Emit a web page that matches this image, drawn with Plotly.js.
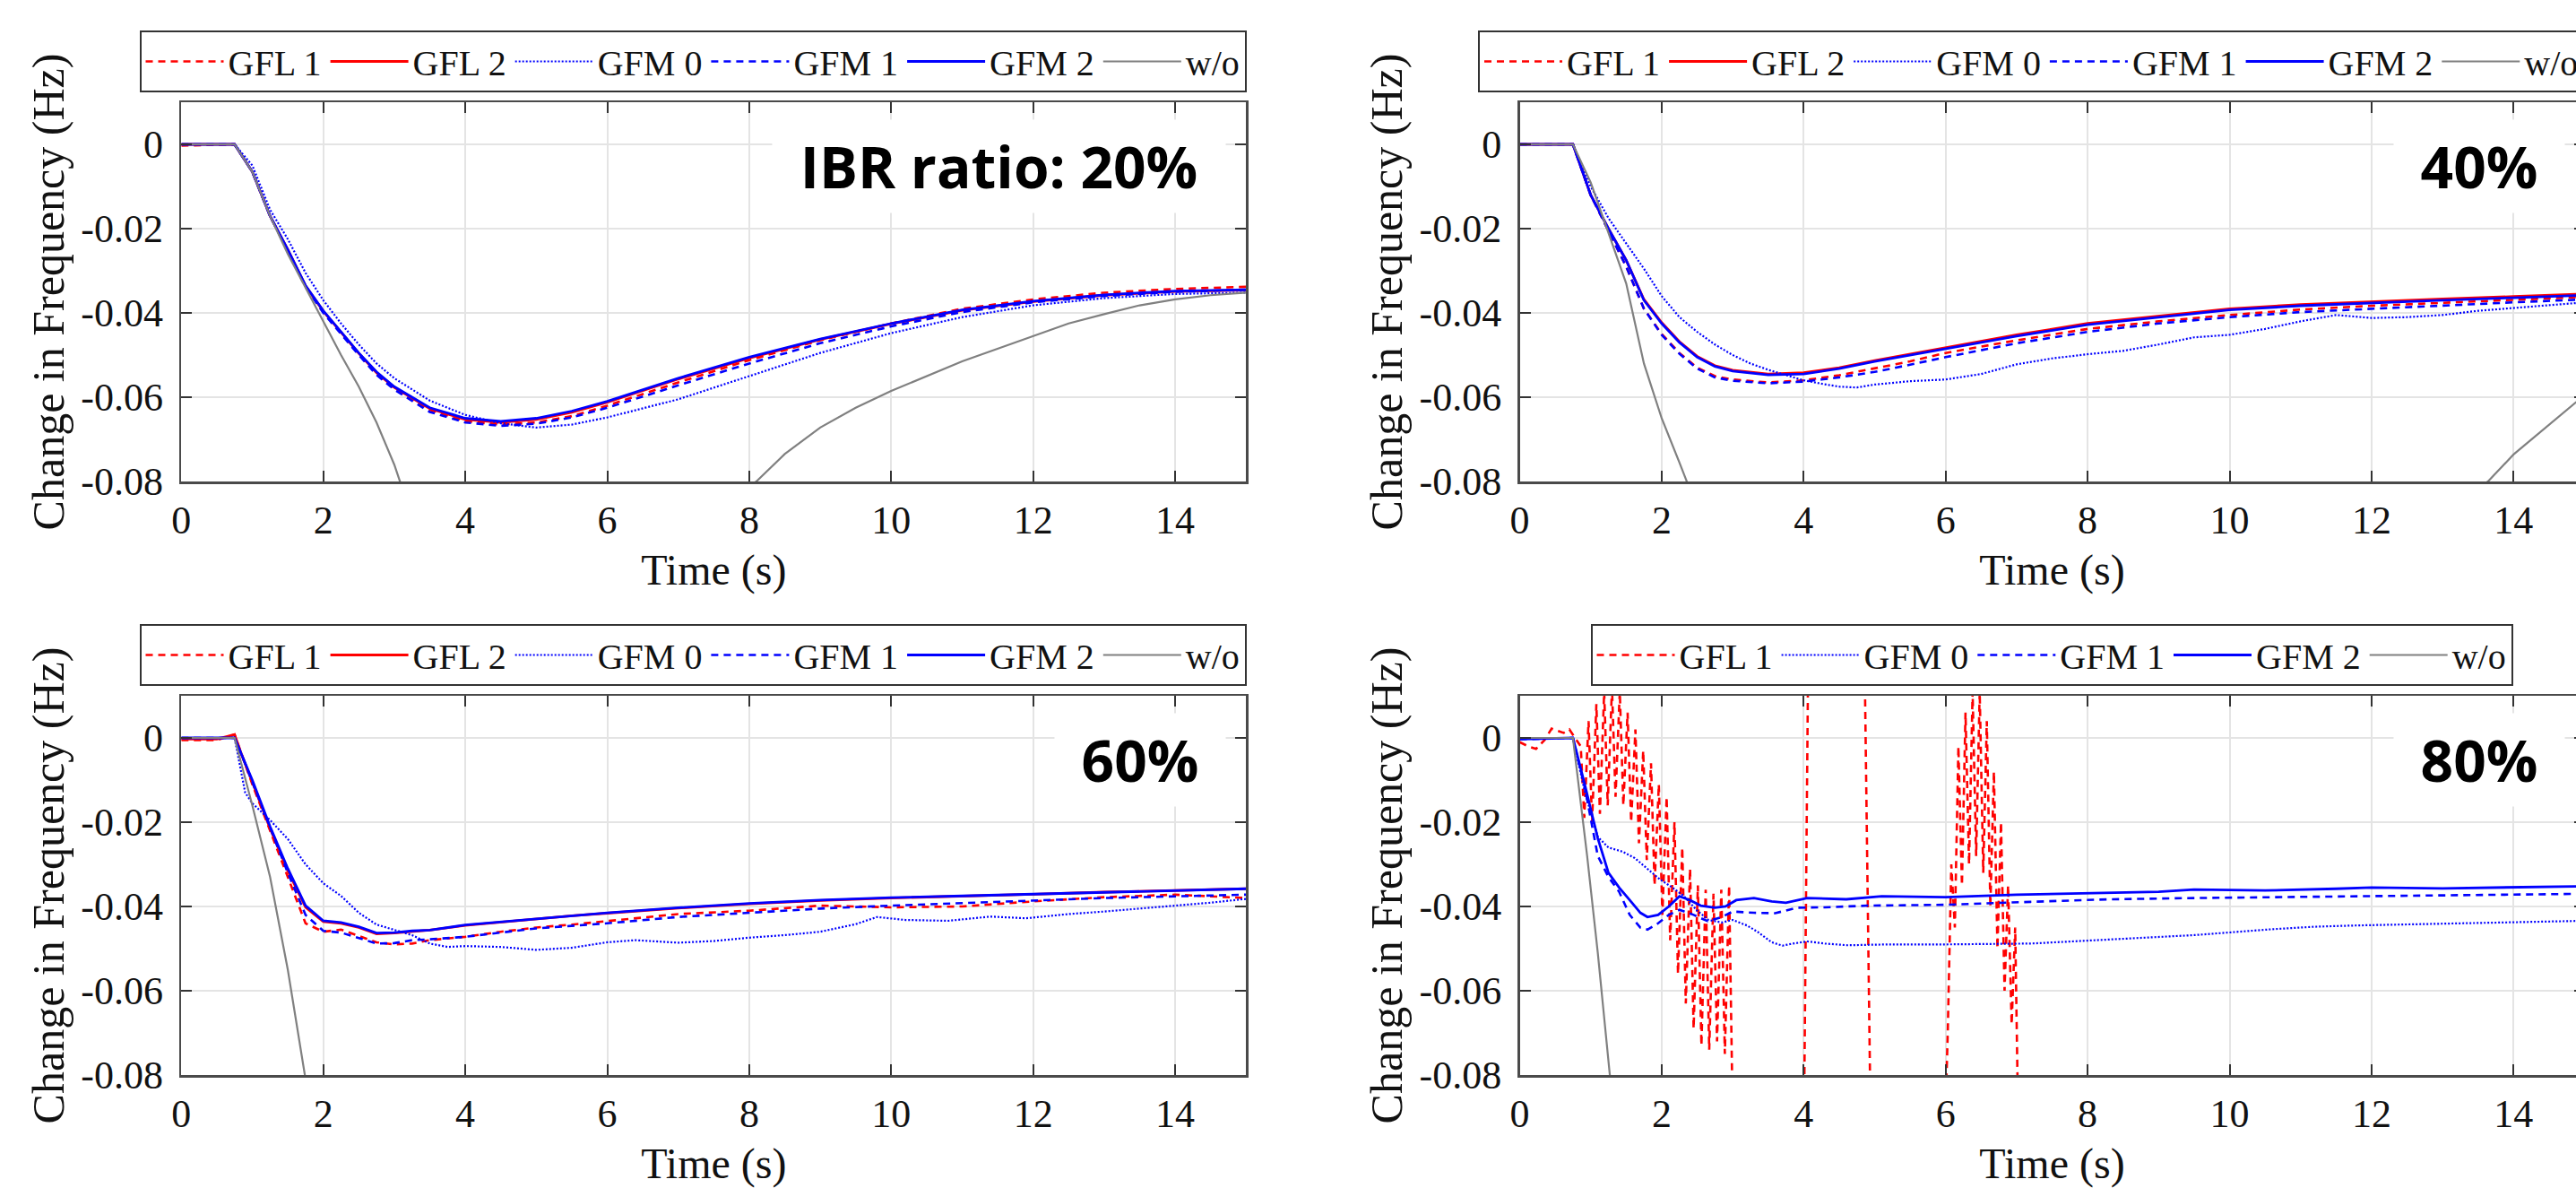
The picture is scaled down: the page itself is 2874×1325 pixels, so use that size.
<!DOCTYPE html>
<html>
<head>
<meta charset="utf-8">
<script src="https://cdn.plot.ly/plotly-3.0.1.min.js"></script>
<style>
  html, body { margin: 0; padding: 0; background: #fff; overflow: hidden; }
  #chart { width: 2900px; height: 1325px; }
</style>
</head>
<body>
<div id="chart"></div>
<script>
// ---------------- DATA ----------------
const seriesNames = ['GFL 1', 'GFL 2', 'GFM 0', 'GFM 1', 'GFM 2', 'w/o'];
const panelLabels = ['IBR ratio: 20%', '40%', '60%', '80%'];
const xTickVals = [0, 2, 4, 6, 8, 10, 12, 14];
const yTickVals = [0, -0.02, -0.04, -0.06, -0.08];
const yTickText = ['0', '-0.02', '-0.04', '-0.06', '-0.08'];

// ---- IBR 20% ----
const t20 = [0, 0.75, 1.0, 1.25, 1.5, 1.75, 2.0, 2.25, 2.5, 2.75, 3.0, 3.5, 4.0, 4.5, 5.0, 5.5, 6.0, 7.0, 8.0, 9.0, 10.0, 11.0, 12.0, 13.0, 14.0, 15.0];
const gfl1_20 = [-0.0003, 0, -0.0065, -0.017, -0.0252, -0.0338, -0.0398, -0.0448, -0.0498, -0.0545, -0.058, -0.063, -0.0657, -0.0665, -0.066, -0.0645, -0.062, -0.0565, -0.0512, -0.0465, -0.0425, -0.039, -0.0368, -0.0352, -0.0343, -0.0338];
const gfl2_20 = [0, 0, -0.0065, -0.017, -0.025, -0.0336, -0.0396, -0.0446, -0.0496, -0.0542, -0.0577, -0.0627, -0.0653, -0.066, -0.0653, -0.0636, -0.0612, -0.0557, -0.0507, -0.0463, -0.0426, -0.0394, -0.0373, -0.0358, -0.0349, -0.0346];
const gfm0_20 = [0, 0, -0.005, -0.0155, -0.0225, -0.0305, -0.037, -0.0425, -0.0475, -0.052, -0.0555, -0.0608, -0.0642, -0.0662, -0.0672, -0.0665, -0.0648, -0.0605, -0.055, -0.0495, -0.0448, -0.041, -0.0382, -0.0365, -0.0355, -0.0352];
const gfm1_20 = [0, 0, -0.0065, -0.017, -0.0252, -0.0338, -0.04, -0.045, -0.05, -0.0547, -0.0582, -0.0635, -0.066, -0.0668, -0.0663, -0.0648, -0.0625, -0.0572, -0.052, -0.0472, -0.0432, -0.0398, -0.0375, -0.036, -0.035, -0.0345];
const gfm2_20 = [0, 0, -0.0065, -0.017, -0.025, -0.0335, -0.0395, -0.0445, -0.0495, -0.054, -0.0575, -0.0625, -0.065, -0.0657, -0.065, -0.0633, -0.061, -0.0555, -0.0505, -0.0462, -0.0425, -0.0393, -0.0372, -0.0357, -0.0348, -0.0345];
const tWo20 = [0, 0.75, 1.0, 1.25, 1.5, 1.75, 2.0, 2.25, 2.5, 2.75, 3.0, 3.1, 4.0, 5.5, 7.0, 8.1, 8.5, 9.0, 9.5, 10.0, 11.0, 11.5, 12.0, 12.5, 13.0, 13.5, 14.0, 14.5, 15.0];
const wo20 = [0, 0, -0.0065, -0.017, -0.026, -0.034, -0.042, -0.05, -0.0575, -0.066, -0.076, -0.081, -0.095, -0.1, -0.094, -0.08, -0.0735, -0.0672, -0.0625, -0.0585, -0.0515, -0.0485, -0.0455, -0.0425, -0.0403, -0.0382, -0.0368, -0.0358, -0.0352];

// ---- IBR 40% ----
const t40 = [0, 0.75, 1.0, 1.25, 1.5, 1.75, 2.0, 2.25, 2.5, 2.75, 3.0, 3.5, 4.0, 4.5, 5.0, 5.5, 6.0, 7.0, 8.0, 9.0, 10.0, 11.0, 12.0, 13.0, 14.0, 15.0];
const gfl1_40 = [0, 0, -0.012, -0.0205, -0.029, -0.039, -0.045, -0.0495, -0.053, -0.055, -0.0558, -0.0565, -0.056, -0.0548, -0.0532, -0.0515, -0.0495, -0.0465, -0.0438, -0.042, -0.0405, -0.0392, -0.0383, -0.0376, -0.0368, -0.0362];
const gfl2_40 = [0, 0, -0.012, -0.02, -0.0275, -0.0368, -0.0423, -0.0468, -0.0503, -0.0525, -0.0536, -0.0545, -0.0542, -0.053, -0.0513, -0.0498, -0.0483, -0.0452, -0.0425, -0.0407, -0.039, -0.038, -0.0373, -0.0367, -0.0361, -0.0355];
const gfm1_40 = [0, 0, -0.012, -0.0205, -0.029, -0.039, -0.0452, -0.0497, -0.0532, -0.0553, -0.0561, -0.0567, -0.0563, -0.0553, -0.054, -0.0523, -0.0505, -0.0472, -0.0445, -0.0425, -0.041, -0.0398, -0.039, -0.0383, -0.0375, -0.0368];
const gfm2_40 = [0, 0, -0.012, -0.02, -0.0275, -0.037, -0.0425, -0.047, -0.0505, -0.0527, -0.0538, -0.0547, -0.0545, -0.0532, -0.0515, -0.05, -0.0485, -0.0455, -0.0428, -0.041, -0.0393, -0.0383, -0.0376, -0.037, -0.0364, -0.0358];
const tGfm0_40 = [0, 0.75, 1.0, 1.25, 1.5, 1.75, 2.0, 2.25, 2.5, 2.75, 3.0, 3.25, 3.5, 3.75, 4.0, 4.25, 4.5, 4.75, 5.0, 5.5, 6.0, 6.5, 7.0, 7.5, 8.0, 8.5, 9.0, 9.5, 10.0, 10.5, 11.0, 11.5, 12.0, 12.5, 13.0, 13.5, 14.0, 14.5, 15.0];
const gfm0_40 = [0, 0, -0.01, -0.0175, -0.0235, -0.0295, -0.036, -0.041, -0.0445, -0.0475, -0.05, -0.052, -0.0535, -0.0548, -0.056, -0.0568, -0.0575, -0.0577, -0.057, -0.0562, -0.0558, -0.0545, -0.0522, -0.0508, -0.0498, -0.049, -0.0475, -0.0458, -0.0452, -0.0438, -0.042, -0.0405, -0.0412, -0.041, -0.0405, -0.0395, -0.0388, -0.0382, -0.0375];
const tWo40 = [0, 0.75, 1.0, 1.25, 1.5, 1.75, 2.0, 2.25, 2.4, 4.0, 8.0, 12.0, 13.64, 14.0, 14.5, 15.0];
const wo40 = [0, 0, -0.009, -0.021, -0.033, -0.052, -0.065, -0.0755, -0.082, -0.12, -0.14, -0.1, -0.08, -0.0736, -0.0665, -0.0595];

// ---- IBR 60% ----
const t60 = [0, 0.5, 0.75, 0.85, 1.0, 1.25, 1.5, 1.75, 2.0, 2.25, 2.5, 2.75, 3.0, 3.25, 3.5, 4.0, 4.5, 5.0, 5.5, 6.0, 7.0, 8.0, 9.0, 10.0, 11.0, 12.0, 13.0, 14.0, 15.0];
const gfl1_60 = [-0.0005, -0.0005, 0.0008, -0.004, -0.011, -0.022, -0.033, -0.044, -0.046, -0.0455, -0.047, -0.0485, -0.049, -0.0488, -0.048, -0.0472, -0.046, -0.045, -0.0443, -0.0435, -0.0418, -0.041, -0.0398, -0.0402, -0.04, -0.0388, -0.0378, -0.0372, -0.038];
const gfl2_60 = [-0.0003, -0.0003, 0.0008, -0.004, -0.0105, -0.0215, -0.0315, -0.0402, -0.0436, -0.044, -0.045, -0.0465, -0.0463, -0.0459, -0.0456, -0.0445, -0.0437, -0.043, -0.0422, -0.0416, -0.0404, -0.0394, -0.0386, -0.038, -0.0376, -0.0371, -0.0366, -0.0362, -0.0358];
const gfm1_60 = [0, 0, 0, -0.004, -0.0105, -0.0215, -0.032, -0.042, -0.0458, -0.0462, -0.0475, -0.0488, -0.0487, -0.048, -0.0478, -0.0472, -0.0462, -0.0452, -0.0446, -0.044, -0.0425, -0.0415, -0.0405, -0.0398, -0.0392, -0.0386, -0.038, -0.0376, -0.0372];
const gfm2_60 = [0, 0, 0, -0.004, -0.01, -0.021, -0.031, -0.0398, -0.0434, -0.0438, -0.0448, -0.0463, -0.0462, -0.0458, -0.0456, -0.0444, -0.0437, -0.0429, -0.0422, -0.0415, -0.0403, -0.0393, -0.0385, -0.0379, -0.0375, -0.0371, -0.0366, -0.0362, -0.0358];
const tGfm0_60 = [0, 0.75, 0.9, 1.0, 1.25, 1.5, 1.75, 2.0, 2.25, 2.5, 2.75, 3.0, 3.25, 3.5, 3.75, 4.0, 4.5, 5.0, 5.5, 6.0, 6.4, 7.0, 7.5, 8.0, 8.5, 9.0, 9.5, 9.8, 10.2, 10.8, 11.4, 11.9, 12.5, 13.0, 13.5, 14.0, 14.5, 15.0];
const gfm0_60 = [0, 0, -0.013, -0.0155, -0.0195, -0.024, -0.03, -0.0345, -0.0375, -0.0415, -0.0443, -0.0455, -0.0468, -0.0488, -0.0496, -0.0494, -0.0496, -0.0503, -0.0498, -0.0485, -0.048, -0.0486, -0.0482, -0.0474, -0.0468, -0.046, -0.0442, -0.0425, -0.0432, -0.0434, -0.0424, -0.0428, -0.0418, -0.0412, -0.0405, -0.0398, -0.0391, -0.0382];
const tWo60 = [0, 0.75, 1.0, 1.25, 1.5, 1.75, 2.0];
const wo60 = [0, 0, -0.016, -0.033, -0.055, -0.081, -0.1];

// ---- IBR 80% ----
const tGfl1_80 = [0, 0.12, 0.23, 0.35, 0.45, 0.53, 0.62, 0.7, 0.78,
  0.86, 0.91, 0.97, 1.02, 1.08, 1.13, 1.19, 1.24, 1.30, 1.35, 1.41, 1.46, 1.52, 1.57, 1.63, 1.68, 1.74, 1.79, 1.85, 1.90,
  1.96, 2.01, 2.07, 2.12, 2.18, 2.23, 2.29, 2.34, 2.40, 2.45, 2.51, 2.56, 2.62, 2.67, 2.73, 2.78, 2.84, 2.89, 2.95, 3.01,
  3.5, 4.0, 4.07, 4.5, 4.85, 4.95, 5.5, 5.98,
  6.03, 6.08, 6.13, 6.18, 6.23, 6.28, 6.33, 6.38, 6.43, 6.48, 6.53, 6.58, 6.63, 6.68, 6.73, 6.78, 6.83, 6.88, 6.93, 6.98,
  7.03, 7.5, 10, 15];
const gfl1_80 = [-0.001, -0.002, -0.0026, -0.0005, 0.0022, 0.0018, 0.0012, 0.002, 0.0,
  -0.002, -0.019, 0.004, -0.02, 0.008, -0.018, 0.011, -0.016, 0.012, -0.014, 0.011, -0.016, 0.006, -0.02, 0.002, -0.025, -0.003, -0.029, -0.006, -0.035,
  -0.011, -0.042, -0.014, -0.048, -0.02, -0.056, -0.026, -0.063, -0.031, -0.069, -0.035, -0.073, -0.036, -0.074, -0.037, -0.072, -0.036, -0.075, -0.035, -0.1,
  -0.12, -0.1, 0.03, 0.05, 0.03, -0.1, -0.15, -0.1,
  -0.07, -0.03, -0.045, -0.002, -0.035, 0.006, -0.03, 0.011, -0.028, 0.011, -0.032, 0.004, -0.04, -0.008, -0.05, -0.02, -0.06, -0.035, -0.068, -0.045,
  -0.1, -0.15, -0.2, -0.2];
const tGfm0_80 = [0, 0.75, 0.92, 1.1, 1.25, 1.45, 1.62, 1.8, 1.97, 2.15, 2.31, 2.5, 2.66, 2.85, 3.0, 3.2, 3.35, 3.55, 3.7, 3.85, 4.05, 4.3, 4.62, 5.2, 6.0, 7.2, 8.3, 9.5, 10.6, 11.2, 11.8, 12.9, 14.1, 15.0];
const gfm0_80 = [0, 0, -0.013, -0.0235, -0.026, -0.027, -0.0285, -0.031, -0.0335, -0.0355, -0.0375, -0.041, -0.0432, -0.0438, -0.0432, -0.0445, -0.046, -0.0485, -0.0493, -0.0488, -0.0483, -0.0488, -0.0492, -0.049, -0.049, -0.0488, -0.0479, -0.0468, -0.0454, -0.0448, -0.0445, -0.0441, -0.0436, -0.0434];
const tGfm1_80 = [0, 0.75, 0.92, 1.1, 1.25, 1.4, 1.55, 1.7, 1.8, 1.95, 2.1, 2.25, 2.45, 2.65, 2.85, 3.0, 3.3, 3.6, 3.9, 4.3, 4.9, 6.0, 7.2, 8.3, 9.5, 10.6, 11.8, 12.9, 14.0, 15.0];
const gfm1_80 = [-0.0003, 0, -0.012, -0.028, -0.033, -0.0365, -0.042, -0.045, -0.0455, -0.044, -0.042, -0.0408, -0.042, -0.0435, -0.0425, -0.0412, -0.0415, -0.0416, -0.0403, -0.0402, -0.0398, -0.0396, -0.0389, -0.0383, -0.038, -0.0378, -0.0376, -0.0374, -0.0372, -0.037];
const tGfm2_80 = [0, 0.75, 0.92, 1.1, 1.25, 1.4, 1.55, 1.7, 1.8, 1.95, 2.1, 2.25, 2.4, 2.55, 2.75, 2.9, 3.05, 3.3, 3.55, 3.75, 4.05, 4.6, 5.1, 6.0, 7.0, 8.0, 9.0, 9.5, 10.5, 11.5, 12.0, 13.0, 14.0, 15.0];
const gfm2_80 = [-0.0003, 0, -0.0113, -0.0238, -0.032, -0.0355, -0.0385, -0.0415, -0.0425, -0.042, -0.04, -0.0376, -0.0385, -0.0398, -0.0403, -0.04, -0.0385, -0.038, -0.0388, -0.0391, -0.038, -0.0383, -0.0376, -0.0378, -0.0372, -0.0369, -0.0365, -0.036, -0.0362, -0.0358, -0.0355, -0.0357, -0.0354, -0.0352];
const tWo80 = [0, 0.75, 0.95, 1.1, 1.27, 1.5];
const wo80 = [0, 0, -0.028, -0.051, -0.08, -0.11];

// ---------------- STYLES ----------------
const RED = '#ff0000', BLUE = '#0000ff', GRAY = '#808080';
const styles = {
  'GFL 1': {color: RED, width: 2.6, dash: '8px,6px'},
  'GFL 2': {color: RED, width: 2.8, dash: 'solid'},
  'GFM 0': {color: BLUE, width: 2.2, dash: '2px,2px'},
  'GFM 1': {color: BLUE, width: 2.6, dash: '8px,6px'},
  'GFM 2': {color: BLUE, width: 2.8, dash: 'solid'},
  'w/o':   {color: GRAY, width: 2.2, dash: 'solid'}
};

function tr(name, x, y, idx) {
  const s = idx === 1 ? '' : String(idx);
  return {
    type: 'scatter', mode: 'lines', name: name, x: x, y: y,
    xaxis: 'x' + s, yaxis: 'y' + s, legend: 'legend' + s,
    line: {color: styles[name].color, width: styles[name].width, dash: styles[name].dash},
    hoverinfo: 'skip'
  };
}

const data = [
  tr('GFL 1', t20, gfl1_20, 1), tr('GFL 2', t20, gfl2_20, 1), tr('GFM 0', t20, gfm0_20, 1),
  tr('GFM 1', t20, gfm1_20, 1), tr('GFM 2', t20, gfm2_20, 1), tr('w/o', tWo20, wo20, 1),

  tr('GFL 1', t40, gfl1_40, 2), tr('GFL 2', t40, gfl2_40, 2), tr('GFM 0', tGfm0_40, gfm0_40, 2),
  tr('GFM 1', t40, gfm1_40, 2), tr('GFM 2', t40, gfm2_40, 2), tr('w/o', tWo40, wo40, 2),

  tr('GFL 1', t60, gfl1_60, 3), tr('GFL 2', t60, gfl2_60, 3), tr('GFM 0', tGfm0_60, gfm0_60, 3),
  tr('GFM 1', t60, gfm1_60, 3), tr('GFM 2', t60, gfm2_60, 3), tr('w/o', tWo60, wo60, 3),

  tr('GFL 1', tGfl1_80, gfl1_80, 4), tr('GFM 0', tGfm0_80, gfm0_80, 4),
  tr('GFM 1', tGfm1_80, gfm1_80, 4), tr('GFM 2', tGfm2_80, gfm2_80, 4), tr('w/o', tWo80, wo80, 4)
];

// ---------------- LAYOUT ----------------
const W = 2900, H = 1325;
const SERIF = 'Liberation Serif, Times New Roman, serif';
const xDomL = [202.3 / W, 1390.3 / W];
const xDomR = [1695.5 / W, 2883.5 / W];
const yDomT = [1 - 537 / H, 1 - 114 / H];
const yDomB = [1 - 1199 / H, 1 - 776 / H];

function xAxis(domain, anchor) {
  return {
    domain: domain, anchor: anchor, range: [0, 15], tickvals: xTickVals,
    showline: true, linecolor: '#4a4a4a', linewidth: 2.5, mirror: 'allticks',
    ticks: 'inside', ticklen: 12, tickwidth: 2, tickcolor: '#333',
    showgrid: true, gridcolor: '#e4e4e4', gridwidth: 2, zeroline: false,
    tickfont: {family: SERIF, size: 44, color: '#111'}, ticklabelstandoff: 3,
    title: {text: 'Time (s)', font: {family: SERIF, size: 48, color: '#111'}, standoff: 14},
    automargin: false, fixedrange: true
  };
}
function yAxis(domain, anchor) {
  return {
    domain: domain, anchor: anchor, range: [-0.08, 0.01], tickvals: yTickVals, ticktext: yTickText,
    showline: true, linecolor: '#4a4a4a', linewidth: 2.5, mirror: 'allticks',
    ticks: 'inside', ticklen: 12, tickwidth: 2, tickcolor: '#333',
    showgrid: true, gridcolor: '#e4e4e4', gridwidth: 2, zeroline: false,
    tickfont: {family: SERIF, size: 44, color: '#111'}, ticklabelstandoff: 9,
    title: {text: 'Change in Frequency (Hz)', font: {family: SERIF, size: 50, color: '#111'}, standoff: 3},
    automargin: false, fixedrange: true
  };
}
function legendCfg(x, xanchor, y) {
  return {
    x: x, xanchor: xanchor, y: y, yanchor: 'top', orientation: 'h',
    bgcolor: '#ffffff', bordercolor: '#333', borderwidth: 2,
    font: {family: SERIF, size: 40, color: '#111'},
    itemwidth: 87, tracegroupgap: 0, itemclick: false, itemdoubleclick: false
  };
}
function label(text, idx, w) {
  const s = idx === 1 ? '' : String(idx);
  return {
    text: '<b>' + text + '</b>', xref: 'x' + s + ' domain', yref: 'y' + s,
    x: 1, xshift: -22, xanchor: 'right', y: -0.0053, yanchor: 'middle',
    showarrow: false, bgcolor: '#ffffff', borderpad: 8, width: w, align: 'center',
    font: {family: 'Open Sans, Noto Sans, sans-serif', size: 64, color: '#000'}
  };
}

const layout = {
  width: W, height: H, margin: {l: 0, r: 0, t: 0, b: 0},
  paper_bgcolor: '#fff', plot_bgcolor: '#fff',
  xaxis: xAxis(xDomL, 'y'), yaxis: yAxis(yDomT, 'x'),
  xaxis2: xAxis(xDomR, 'y2'), yaxis2: yAxis(yDomT, 'x2'),
  xaxis3: xAxis(xDomL, 'y3'), yaxis3: yAxis(yDomB, 'x3'),
  xaxis4: xAxis(xDomR, 'y4'), yaxis4: yAxis(yDomB, 'x4'),
  legend: legendCfg(1390.5 / W, 'right', 1 - 34 / H),
  legend2: legendCfg(2884 / W, 'right', 1 - 34 / H),
  legend3: legendCfg(1390.5 / W, 'right', 1 - 696 / H),
  legend4: legendCfg(2289 / W, 'center', 1 - 696 / H),
  annotations: [
    label(panelLabels[0], 1, 489),
    label(panelLabels[1], 2, 174),
    label(panelLabels[2], 3, 174),
    label(panelLabels[3], 4, 174)
  ],
  showlegend: true
};

Plotly.newPlot('chart', data, layout, {displayModeBar: false, staticPlot: true});
</script>
</body>
</html>
